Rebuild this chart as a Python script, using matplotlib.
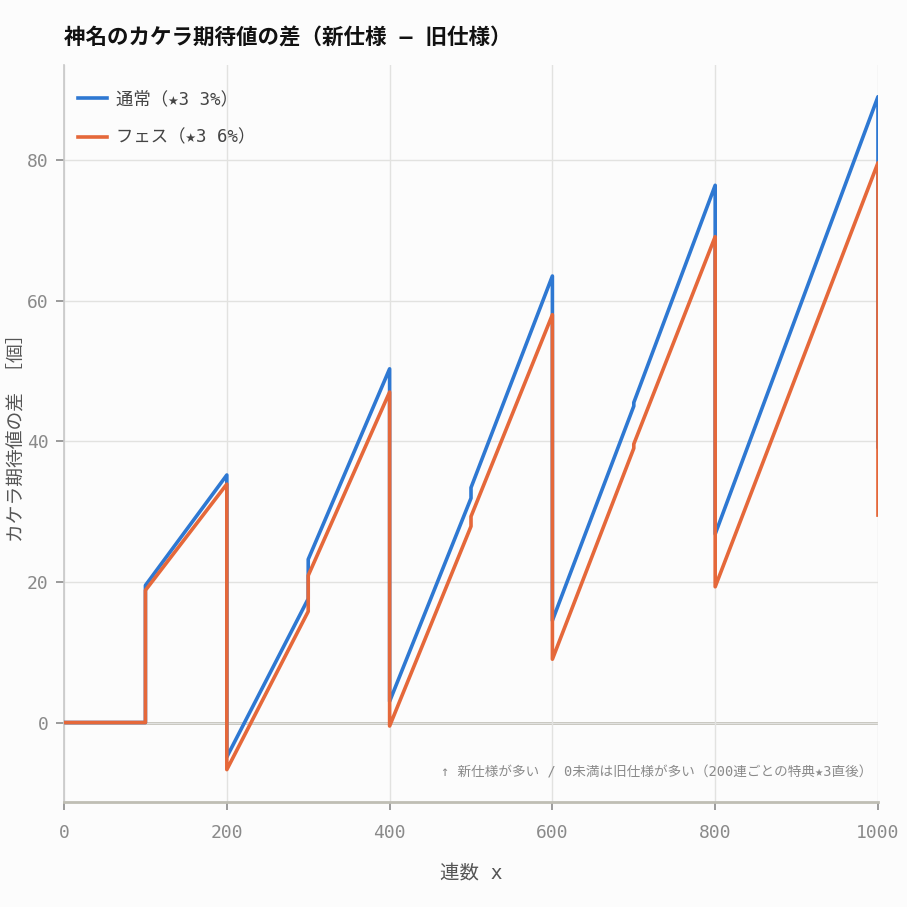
import matplotlib
matplotlib.use("Agg")
import matplotlib.pyplot as plt

# 数字は等幅, 日本語はNoto Sans CJK JPへ
plt.rcParams["font.family"] = ["DejaVu Sans Mono", "Noto Sans CJK JP", "DejaVu Sans"]

# 連数 (特典の前後で同じxを2回置く)
pulls = [0, 100, 100, 200, 200, 300, 300, 400, 400, 500, 500,
         600, 600, 700, 700, 800, 800, 1000, 1000]
# 通常 (★3 3%)
diff_normal = [0, 0, 19.5, 35.2, -4.9, 17.6, 23.2, 50.3, 3.0, 31.9, 33.4,
               63.5, 14.5, 45.0, 45.5, 76.4, 26.8, 89.0, 39.2]
# フェス (★3 6%)
diff_fes = [0, 0, 18.8, 33.9, -6.7, 15.8, 20.9, 47.0, -0.5, 27.9, 29.3,
            58.0, 9.0, 39.0, 39.6, 69.1, 19.3, 79.6, 29.5]

labels = ["通常（★3 3%）", "フェス（★3 6%）"]
xticks = [0, 200, 400, 600, 800, 1000]
yticks = [0, 20, 40, 60, 80]

bg = "#fcfcfc"
fig = plt.figure(figsize=(9.07, 9.07), dpi=100, facecolor=bg)
ax = fig.add_axes([0.0706, 0.1158, 0.8974, 0.8125], facecolor=bg)

ax.grid(True, color="#e2e2e0", lw=1.0, zorder=0)
ax.axhline(0, color="#bfbeb4", lw=2.0, zorder=1)

ax.plot(pulls, diff_normal, color="#2e78d2", lw=2.6, label=labels[0], zorder=3)
ax.plot(pulls, diff_fes, color="#e5683a", lw=2.6, label=labels[1], zorder=4)

ax.set_xlim(0, 1000)
ax.set_ylim(-11.3, 93.5)
ax.set_xticks(xticks)
ax.set_yticks(yticks)

for s in ["top", "right"]:
    ax.spines[s].set_visible(False)
ax.spines["bottom"].set_color("#bfbeb4")
ax.spines["bottom"].set_linewidth(2.0)
ax.spines["left"].set_color("#c8c8c8")
ax.spines["left"].set_linewidth(1.2)
ax.tick_params(colors="#8a8a8a", labelsize=13, length=6, width=1.2)
ax.tick_params(axis="x", pad=10)
ax.tick_params(axis="y", pad=5)

ax.set_xlabel("連数 x", fontsize=14, color="#555555", labelpad=16)
ax.set_ylabel("カケラ期待値の差 ［個］", fontsize=13.5, color="#555555", labelpad=0)

fig.text(0.0706, 0.958, "神名のカケラ期待値の差（新仕様 – 旧仕様）",
         fontsize=15.5, fontweight="bold", color="#111111", va="center", ha="left")

ax.text(0.993, 0.03, "↑ 新仕様が多い / 0未満は旧仕様が多い（200連ごとの特典★3直後）",
        transform=ax.transAxes, ha="right", va="bottom", fontsize=9.8, color="#8a8a8a")

leg = ax.legend(loc="upper left", frameon=False, fontsize=12.5, handlelength=1.7,
                handletextpad=0.5, labelspacing=1.2, borderaxespad=0.4,
                bbox_to_anchor=(0.0, 0.985))
for t in leg.get_texts():
    t.set_color("#444444")

fig.savefig("out.png", dpi=100, facecolor=bg)
